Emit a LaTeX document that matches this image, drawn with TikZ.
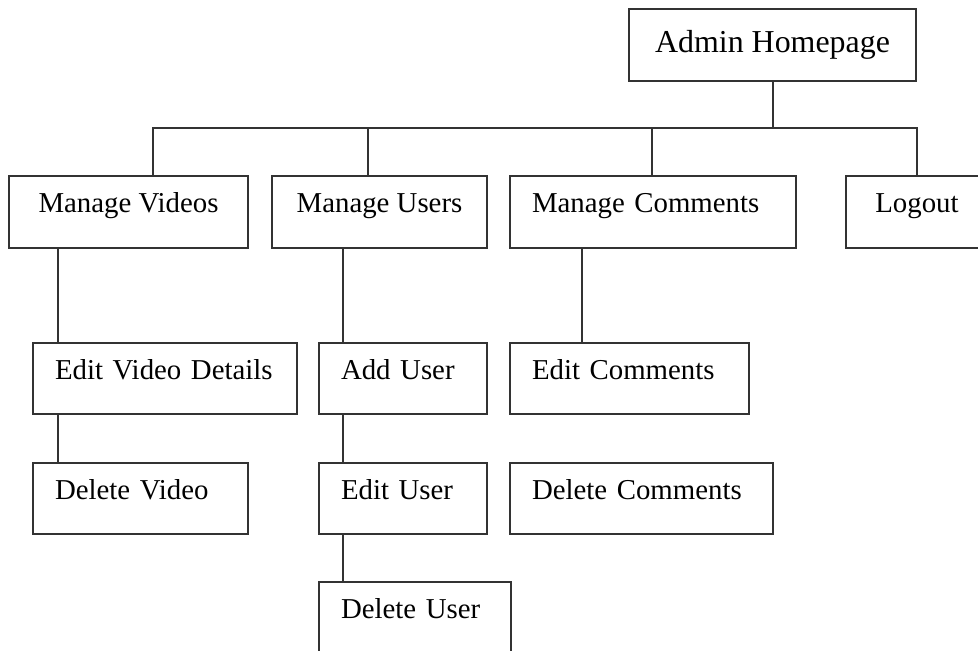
\documentclass[tikz,border=0pt]{standalone}
\usepackage{fontspec}
\setmainfont{Liberation Serif}
\usepackage{xcolor}
\usetikzlibrary{positioning}
\definecolor{boxline}{HTML}{333333}

\begin{document}
\begin{tikzpicture}[x=0.25mm,y=-0.25mm,
  box/.style={draw=boxline,line width=0.5mm,anchor=north west,outer sep=0pt,
    inner xsep=0pt,inner ysep=0pt,font=\fontsize{20.5}{24}\selectfont,
    text height=9mm,text depth=8.75mm},
  leaf/.style={box,inner xsep=5.5mm,align=left},
  link/.style={draw=boxline,line width=0.5mm}]
\useasboundingbox (0,0) rectangle (978,651);
% top level
\node[box,minimum width=71.75mm,font=\fontsize{22.7}{26}\selectfont,
  text height=10.75mm,text depth=7.25mm] (admin) at (629,9) {Admin Homepage};
\node[box,minimum width=59.75mm,text depth=9mm] (mv) at (9,176) {Manage Videos};
\node[box,minimum width=53.75mm,text depth=9mm] (mu) at (272,176) {Manage Users};
\node[leaf,text width=60.5mm,text depth=9mm] (mc) at (510,176) {Manage Comments};
\node[box,minimum width=35.5mm,text depth=9mm] (lo) at (846,176) {Logout};
% second level
\node[leaf,text width=55mm] (evd) at (33,343) {Edit Video Details};
\node[leaf,text width=42.75mm] (dv) at (33,463) {Delete Video};
\node[leaf,text width=31mm] (au) at (319,343) {Add User};
\node[leaf,text width=31mm] (eu) at (319,463) {Edit User};
\node[leaf,text width=37mm] (du) at (319,582) {Delete User};
\node[leaf,text width=48.75mm] (ec) at (510,343) {Edit Comments};
\node[leaf,text width=54.75mm] (dc) at (510,463) {Delete Comments};
% connectors
\coordinate (d1) at (153,128);
\coordinate (d2) at (368,128);
\coordinate (d3) at (652,128);
\coordinate (d4) at (917,128);
\coordinate (vx) at (58,0);
\coordinate (ux) at (343,0);
\coordinate (cx) at (582,0);
\draw[link] (d1 |- mv.north) -- (d1) -- (d4) -- (d4 |- lo.north);
\draw[link] (admin.south) -- (admin.south |- d1);
\foreach \j/\b in {d2/mu,d3/mc}
  \draw[link] (\j) -- (\j |- \b.north);
\foreach \a/\b/\x in {mv/evd/vx,evd/dv/vx,mu/au/ux,au/eu/ux,eu/du/ux,mc/ec/cx}
  \draw[link] (\a.south -| \x) -- (\b.north -| \x);
\end{tikzpicture}
\end{document}
